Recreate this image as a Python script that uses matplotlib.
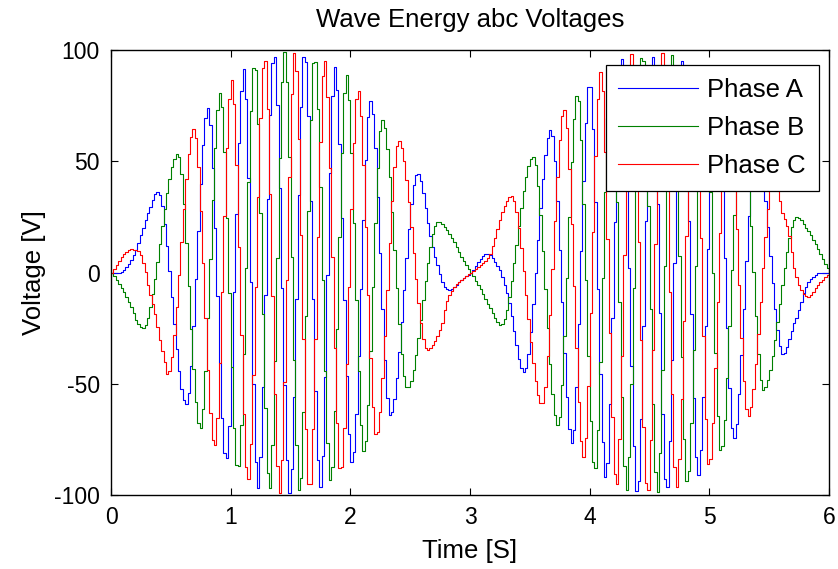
import numpy as np
import matplotlib
matplotlib.use("Agg")
import matplotlib.pyplot as plt

# Turning points (time [s], voltage [V]) of each phase voltage
phase_a_t = [0, 0.065, 0.142, 0.198, 0.253, 0.309, 0.382, 0.619, 0.800, 0.953, 1.101, 1.218,
             1.352, 1.482, 1.608, 1.740, 1.859, 2.004, 2.160, 2.324, 2.550, 2.667, 2.723, 2.779,
             2.820, 2.918, 3.000, 3.085, 3.127, 3.225, 3.308, 3.442, 3.665, 3.843, 3.991, 4.125,
             4.256, 4.387, 4.513, 4.632, 4.763, 4.897, 5.047, 5.195, 5.381, 5.608, 5.650, 5.690,
             5.733, 5.760, 5.800, 5.845, 5.920, 6.000]
phase_a_v = [0, 0, 4, 10, 19, 28, 36.3, -59.2, 73.8, -84.3, 91.3, -97.0,
             98.8, -99.2, 99.2, -96.5, 92.2, -85.5, 77.1, -64.4, 44.6, 14.6, 2.6, -6.4,
             -7.9, -3.4, 0, 6.4, 8.6, 2.6, -10.9, -44.9, 64.3, -76.8, 85.8, -92.5,
             96.7, -99.8, 98.8, -98.5, 95.5, -91.0, 84.3, -74.5, 59.2, -37.0, -31.8, -24.4,
             -18.3, -13.1, -6.4, -2.6, 0, 0]

phase_b_t = [0, 0.075, 0.159, 0.215, 0.257, 0.549, 0.736, 0.903, 1.051, 1.190, 1.315, 1.440,
             1.566, 1.690, 1.825, 1.957, 2.104, 2.257, 2.467, 2.723, 2.834, 2.918, 3.000, 3.085,
             3.168, 3.250, 3.518, 3.724, 3.888, 4.033, 4.172, 4.298, 4.429, 4.557, 4.680, 4.805,
             4.949, 5.086, 5.264, 5.440, 5.720, 5.830, 5.930, 6.000]
phase_b_v = [0, -6.4, -15.4, -22.8, -25.1, 53.3, -70.0, 80.8, -89.0, 94.7, -97.8, 99.2,
             -99.2, 97.7, -94.0, 88.8, -80.5, 68.8, -52.0, 22.8, 16.1, 7.1, 0, -7.9,
             -16.9, -23.6, 52.0, -68.8, 80.5, -89.0, 94.0, -97.8, 99.2, -99.2, 97.7, -94.7,
             89.0, -80.5, 70.0, -52.8, 24.8, 17.6, 7.1, 0]

phase_c_t = [0, 0.059, 0.100, 0.163, 0.226, 0.253, 0.282, 0.309, 0.354, 0.395, 0.437, 0.465,
             0.683, 0.855, 1.000, 1.135, 1.273, 1.399, 1.524, 1.650, 1.775, 1.909, 2.054, 2.207,
             2.394, 2.634, 2.751, 2.793, 2.834, 2.918, 3.000, 3.085, 3.155, 3.210, 3.267, 3.336,
             3.593, 3.777, 3.941, 4.083, 4.214, 4.340, 4.473, 4.596, 4.716, 4.865, 4.986, 5.145,
             5.315, 5.535, 5.594, 5.650, 5.705, 5.760, 5.811, 5.900, 6.000]
phase_c_v = [0, 4.9, 8.3, 10.4, 9.4, 5.6, -0.4, -7.9, -16.9, -28.9, -39.3, -45.8,
             64.4, -78.3, 86.5, -93.6, 96.7, -99.2, 99.2, -98.5, 96.0, -90.2, 82.3, -73.5,
             59.1, -34.8, -24.4, -13.8, -8.6, -3.4, 0, 3.4, 7.9, 17.6, 28.1, 34.4,
             -59.2, 73.3, -82.8, 90.3, -96.3, 98.2, -99.8, 99.2, -97.0, 93.6, -87.3, 78.3,
             -64.5, 45.8, 28.1, 19.1, 1.0, -7.9, -10.9, -5.6, 0]

series_labels = ["Phase A", "Phase B", "Phase C"]
x_ticks = [0, 1, 2, 3, 4, 5, 6]
y_ticks = [-100, -50, 0, 50, 100]

SAMPLE_DT = 0.02  # hold interval of the sampled output


def pchip(xk, yk, x):
    """Monotone piecewise-cubic Hermite curve through the turning points."""
    xk = np.asarray(xk, float)
    yk = np.asarray(yk, float)
    h = np.diff(xk)
    delta = np.diff(yk) / h
    n = len(xk)
    d = np.zeros(n)
    for k in range(1, n - 1):
        if delta[k - 1] * delta[k] > 0:
            w1 = 2 * h[k] + h[k - 1]
            w2 = h[k] + 2 * h[k - 1]
            d[k] = (w1 + w2) / (w1 / delta[k - 1] + w2 / delta[k])

    def end_slope(h0, h1, d0, d1):
        s = ((2 * h0 + h1) * d0 - h0 * d1) / (h0 + h1)
        if np.sign(s) != np.sign(d0):
            s = 0.0
        elif np.sign(d0) != np.sign(d1) and abs(s) > abs(3 * d0):
            s = 3 * d0
        return s

    d[0] = end_slope(h[0], h[1], delta[0], delta[1])
    d[-1] = end_slope(h[-1], h[-2], delta[-1], delta[-2])
    idx = np.clip(np.searchsorted(xk, x, side="right") - 1, 0, n - 2)
    hh = h[idx]
    s = (x - xk[idx]) / hh
    h00 = 2 * s**3 - 3 * s**2 + 1
    h10 = s**3 - 2 * s**2 + s
    h01 = -2 * s**3 + 3 * s**2
    h11 = s**3 - s**2
    return h00 * yk[idx] + h10 * hh * d[idx] + h01 * yk[idx + 1] + h11 * hh * d[idx + 1]


plt.rcParams["font.family"] = ["Liberation Sans", "DejaVu Sans"]
plt.rcParams["axes.unicode_minus"] = False

fig = plt.figure(figsize=(8.38, 5.69), dpi=100)
ax = fig.add_axes([111 / 838, 1 - 495 / 569, (829 - 111) / 838, (495 - 50) / 569])

t_grid = np.arange(0, 6 + SAMPLE_DT / 2, SAMPLE_DT)
colors = ["#0000ff", "#008000", "#ff0000"]
for (tk, vk), col, lab in zip([(phase_a_t, phase_a_v), (phase_b_t, phase_b_v), (phase_c_t, phase_c_v)],
                              colors, series_labels):
    v = pchip(tk, vk, t_grid)
    ax.plot(t_grid, v, drawstyle="steps-post", color=col, lw=0.8, label=lab)

ax.set_xlim(0, 6)
ax.set_ylim(-100, 100)
ax.set_xticks(x_ticks)
ax.set_yticks(y_ticks)
ax.tick_params(direction="in", length=5, width=0.8, top=True, right=True,
               labelsize=16.5, pad=8, colors="black")
for sp in ax.spines.values():
    sp.set_linewidth(1.0)

ax.set_title("Wave Energy abc Voltages", fontsize=18.5, pad=16.5)
ax.set_xlabel("Time [S]", fontsize=18.5, labelpad=7)
ax.set_ylabel("Voltage [V]", fontsize=18.5, labelpad=6)

leg = ax.legend(loc="upper right", bbox_to_anchor=(0.9855, 0.966), borderaxespad=0,
                fontsize=18.5, handlelength=3.1, handletextpad=0.35, labelspacing=0.55,
                borderpad=0.5, fancybox=False, edgecolor="black", framealpha=1)
leg.get_frame().set_linewidth(0.9)

fig.savefig("out.png", dpi=100)
